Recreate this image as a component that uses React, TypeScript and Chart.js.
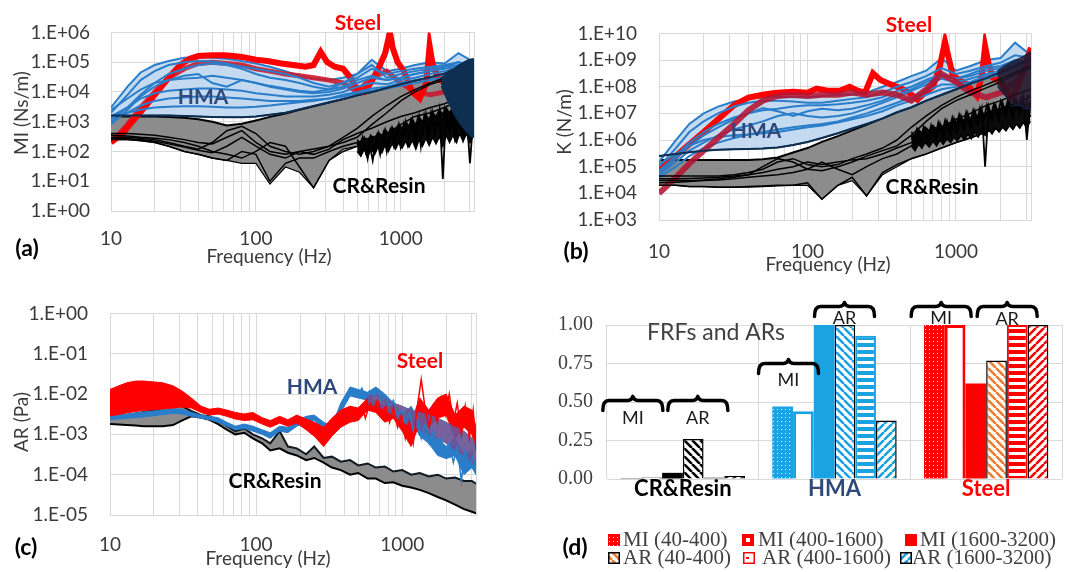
import React, { useEffect, useRef } from 'react';
import { Chart, registerables } from 'chart.js';
Chart.register(...registerables);

// ================= DATA =================
// shared frequency axis (Hz)
const freqGrid = [10, 13, 16, 20, 25, 32, 40, 50, 63, 80, 100, 125, 160, 200, 250, 320, 400, 500, 630, 800, 1000, 1250, 1600, 2000, 2500, 3200];
const freqGridTicks = [10, 20, 30, 40, 50, 60, 70, 80, 90, 100, 200, 300, 400, 500, 600, 700, 800, 900, 1000, 2000, 3000];
const freqLabelTicks = [10, 100, 1000];
const miTicks = [1, 10, 100, 1e3, 1e4, 1e5, 1e6];
const kTicks = [1e3, 1e4, 1e5, 1e6, 1e7, 1e8, 1e9, 1e10];
const arTicks = [1e-5, 1e-4, 1e-3, 1e-2, 1e-1, 1];
const freqNoiseA = [500, 530, 560, 590, 620, 660, 700, 740, 780, 820, 870, 920, 970, 1020, 1080, 1140, 1200, 1270, 1340, 1410, 1490, 1570, 1660, 1750, 1850, 1950, 2060, 2170, 2290, 2420, 2550, 2690, 2840, 3000, 3170];
const freqNoiseB = [515, 545, 575, 605, 640, 680, 720, 760, 800, 845, 895, 945, 995, 1050, 1110, 1170, 1235, 1305, 1375, 1450, 1530, 1615, 1705, 1800, 1900, 2000, 2110, 2230, 2350, 2480, 2620, 2760, 2920, 3080];
const freqNavy = [1900, 2100, 2300, 2500, 2700, 2900, 3100, 3200];

// ---- (a) MI (Ns/m) ----
const hmaA1 = [3e3, 1.5e4, 4.5e4, 8e4, 1.1e5, 1.4e5, 1.5e5, 1.4e5, 1.3e5, 1.1e5, 9e4, 7e4, 5e4, 3.5e4, 2.8e4, 2.5e4, 3e4, 4e4, 1.2e5, 5e4, 6e4, 8e4, 1e5, 9e4, 2e5, 1e5];
const hmaA2 = [2e3, 8e3, 2.5e4, 5e4, 8e4, 1e5, 1.1e5, 1.05e5, 9e4, 7e4, 6e4, 5e4, 4e4, 3e4, 2e4, 1.5e4, 2e4, 3e4, 6e4, 4e4, 5e4, 6e4, 7e4, 8e4, 1e5, 8e4];
const hmaA3 = [1.2e3, 3e3, 8e3, 2e4, 4e4, 6e4, 8e4, 9e4, 8e4, 6e4, 4e4, 3e4, 2.5e4, 2e4, 1.5e4, 1.2e4, 2e4, 4e4, 8e4, 3e4, 4e4, 5e4, 6e4, 7e4, 8e4, 6e4];
const hmaA4 = [2.5e3, 6e3, 1.2e4, 2e4, 2.5e4, 2.8e4, 3e4, 3.5e4, 3e4, 2.5e4, 2e4, 1.6e4, 1.3e4, 1.1e4, 1e4, 1.2e4, 1.5e4, 2.5e4, 3.5e4, 2.5e4, 3e4, 4e4, 5e4, 6e4, 7e4, 6e4];
const hmaA5 = [1.5e3, 3e3, 6e3, 9e3, 1.1e4, 1.2e4, 1.3e4, 1.3e4, 1.2e4, 1.1e4, 9e3, 8e3, 7e3, 7e3, 7e3, 8e3, 1e4, 1.5e4, 2e4, 1.8e4, 2.5e4, 3e4, 4e4, 5e4, 6e4, 5e4];
const hmaA6 = [1e3, 2e3, 3.5e3, 5e3, 6e3, 6.5e3, 7e3, 7e3, 6.5e3, 6e3, 5.5e3, 5e3, 5e3, 5e3, 5.5e3, 6e3, 8e3, 1e4, 1.3e4, 1.5e4, 2e4, 2.5e4, 3e4, 4e4, 5e4, 4e4];
const hmaA7 = [1.5e3, 2e3, 2.5e3, 3e3, 3.2e3, 3.3e3, 3.3e3, 3.2e3, 3e3, 3e3, 3.2e3, 3.5e3, 4e3, 4.5e3, 5e3, 6e3, 7e3, 9e3, 1.1e4, 1.3e4, 1.6e4, 2e4, 2.5e4, 3e4, 4e4, 5e4];
const hmaA8 = [8e2, 2.5e3, 7e3, 1.5e4, 2.5e4, 3.5e4, 4e4, 2e4, 1.5e4, 2.5e4, 2e4, 1.5e4, 1.2e4, 1e4, 9e3, 1e4, 1.3e4, 2e4, 3e4, 2.5e4, 3e4, 4e4, 5e4, 7e4, 1e5, 7e4];
const hmaLowA = [1.6e3, 1.6e3, 1.6e3, 1.6e3, 1.6e3, 1.55e3, 1.5e3, 1.45e3, 1.4e3, 1.4e3, 1.5e3, 1.7e3, 2e3, 2.6e3, 3.4e3, 4.5e3, 5.8e3, 7.7e3, 1e4, 1.35e4, 1.8e4, 2.4e4, 3.1e4, 4.2e4, 5.5e4, 7.5e4];
const crTopA = [1.5e3, 1.5e3, 1.5e3, 1.5e3, 1.45e3, 1.35e3, 1.2e3, 1e3, 7.5e2, 8.5e2, 1.1e3, 1.45e3, 1.9e3, 2.5e3, 3.3e3, 4.4e3, 5.8e3, 7.7e3, 1e4, 1.35e4, 1.8e4, 2.4e4, 3.1e4, 4.2e4, 5.5e4, 7.5e4];
const crLowA = [2.5e2, 2.5e2, 2.3e2, 2e2, 1.5e2, 1e2, 8e1, 6e1, 5e1, 4e1, 4e1, 8, 3e1, 2e1, 6, 5e1, 1.2e2, 1.5e2, 2e2, 3e2, 5e2, 8e2, 1e3, 1.5e3, 2e3, 3e3];
const crA2 = [4e2, 4e2, 3.8e2, 3.5e2, 3e2, 2.5e2, 2e2, 1.8e2, 3e2, 5e2, 2e2, 1e2, 8e1, 1e2, 1.2e2, 1.5e2, 3e2, 6e2, 1.5e3, 3.5e3, 7e3, 1.2e4, 2e4, 3e4, 4e4, 6e4];
const crA3 = [3e2, 3e2, 2.8e2, 2.5e2, 2e2, 1.5e2, 1.2e2, 2e2, 5e2, 7e2, 4e2, 1.5e2, 1e2, 8e1, 1e2, 1.5e2, 2e2, 3e2, 8e2, 2e3, 5e3, 1e4, 1.8e4, 2.5e4, 3.5e4, 5e4];
const crA4 = [3.5e2, 3.3e2, 3e2, 2.8e2, 2.5e2, 2e2, 1.5e2, 1e2, 8e1, 6e1, 1e2, 2e2, 1.5e2, 3e1, 6, 5e1, 1e2, 1.5e2, 2e2, 4e2, 8e2, 1.5e3, 2e3, 3e3, 5e3, 8e3];
const crA5 = [2.8e2, 2.7e2, 2.5e2, 2.2e2, 1.8e2, 1.4e2, 1.1e2, 9e1, 1.5e2, 3e2, 1.5e2, 8e1, 6e1, 1e2, 8e1, 1.2e2, 2.5e2, 4e2, 6e2, 1e3, 1.5e3, 2e3, 3e3, 4e3, 6e3, 1e4];
const crA6 = [2.5e2, 2.5e2, 2.3e2, 2e2, 1.5e2, 1e2, 8e1, 6e1, 5e1, 1e2, 8e1, 1e1, 4e1, 6e1, 6e1, 1e2, 1.5e2, 2e2, 3e2, 4e2, 6e2, 8e2, 1e3, 1.5e3, 2e3, 3e3];
const noiseA1 = [2e2, 8e1, 2.5e2, 6e1, 3e2, 1e2, 4e2, 1.2e2, 5e2, 1.5e2, 6e2, 2e2, 8e2, 2.5e2, 1e3, 3e2, 1.2e3, 2e2, 1.5e3, 4e2, 1.8e3, 3e2, 2e3, 5e2, 2.5e3, 1.2e1, 3e3, 4e2, 2.5e3, 2e2, 3e3, 3e2, 2e3, 4e1, 1.5e3];
const noiseA2 = [1.2e2, 3e2, 9e1, 2e2, 5e1, 3e2, 8e1, 4e2, 1e2, 5e2, 1.5e2, 6e2, 1.5e2, 8e2, 1.8e2, 1e3, 2.5e2, 1.2e3, 1.5e2, 1.5e3, 3e2, 2e3, 4e2, 1.5e3, 3e2, 2.5e3, 6e2, 2e3, 3e2, 2.5e3, 5e2, 2e3, 3e2, 1.5e3];
const noiseHiA = [2.5e2, 1.8e2, 3e2, 2.2e2, 3.5e2, 2.6e2, 4.5e2, 3.2e2, 5.5e2, 4e2, 6.5e2, 5e2, 8e2, 6e2, 1e3, 7e2, 1.2e3, 8e2, 1.4e3, 1e3, 1.7e3, 1.2e3, 2e3, 1.5e3, 2.4e3, 1.8e3, 2.8e3, 2e3, 3e3, 2.2e3, 3e3, 2.4e3, 2.8e3, 2e3, 2.5e3];
const noiseLoA = [1e2, 7e1, 1.2e2, 6e1, 1.3e2, 8e1, 1.5e2, 9e1, 1.7e2, 1e2, 1.8e2, 1.2e2, 2e2, 1.3e2, 2.2e2, 1.4e2, 2.4e2, 1.2e2, 2.6e2, 1.5e2, 2.8e2, 1.6e2, 3e2, 1.8e2, 3.2e2, 1.5e2, 3.5e2, 2e2, 3.5e2, 2e2, 4e2, 2.2e2, 4e2, 2e2, 3.5e2];
const navyTopA = [3e4, 5e4, 6e4, 8e4, 1e5, 1.2e5, 1.3e5, 1.3e5];
const navyBotA = [1.5e4, 5e3, 2e3, 1e3, 6e2, 4e2, 3e2, 3e2];
const freqSteelA = [10, 12, 14, 17, 20, 25, 30, 35, 40, 50, 60, 70, 80, 100, 120, 150, 180, 220, 250, 280, 310, 350, 400, 450, 500, 560, 620, 700, 780, 840, 880, 950, 1050, 1200, 1350, 1500, 1580, 1650, 1800, 2000, 2300, 2600, 3000, 3200];
const steelA1 = [2e2, 4e2, 1e3, 3e3, 8e3, 3e4, 8e4, 1.3e5, 1.6e5, 1.7e5, 1.7e5, 1.6e5, 1.5e5, 1.2e5, 1.1e5, 9e4, 8e4, 7e4, 8e4, 2.2e5, 1e5, 7e4, 6e4, 3e4, 1.2e4, 1e4, 2e4, 6e4, 2e5, 1e6, 3e5, 1e5, 5e4, 1e4, 6e3, 2e4, 3.5e5, 1e5, 3e4, 2e4, 1e4, 8e3, 2e4, 1e5];
const steelA2 = [2e2, 8e2, 3e3, 1e4, 3e4, 6e4, 9e4, 1e5, 9e4, 8e4, 6e4, 5e4, 4e4, 3.5e4, 3e4, 2.5e4, 2e4, 1e4, 3e4, 5e4, 2e4, 1e4, 8e3, 1e4, 3e4, 8e4];

// ---- (b) K (N/m) ----
const hmaB1 = [1.5e5, 1e6, 4e6, 1e7, 1.8e7, 2.8e7, 3.5e7, 4e7, 4.2e7, 4e7, 4e7, 4.5e7, 5e7, 5e7, 6e7, 1e8, 1.5e8, 2.5e8, 4e8, 1.2e9, 4e8, 6e8, 1e9, 1.2e9, 4.5e9, 1.5e9];
const hmaB2 = [1e5, 5e5, 2e6, 5e6, 1e7, 1.8e7, 2.5e7, 3e7, 3e7, 2.8e7, 2.5e7, 2.5e7, 3e7, 3.5e7, 4e7, 6e7, 1e8, 1.5e8, 2.5e8, 5e8, 3e8, 4e8, 6e8, 8e8, 1.5e9, 1.2e9];
const hmaB3 = [7e4, 2.5e5, 8e5, 2e6, 4e6, 7e6, 1e7, 1.3e7, 1.5e7, 1.8e7, 2e7, 2e7, 2.2e7, 2.5e7, 3e7, 4e7, 7e7, 1e8, 1.8e8, 3e8, 2e8, 3e8, 5e8, 6e8, 1e9, 8e8];
const hmaB4 = [5e4, 1.5e5, 4e5, 8e5, 1.5e6, 2.5e6, 3.5e6, 5e6, 8e6, 1e7, 8e6, 7e6, 8e6, 1e7, 1.5e7, 2.5e7, 4e7, 7e7, 1.2e8, 2e8, 1.5e8, 2e8, 3e8, 4e8, 7e8, 6e8];
const hmaB5 = [4e4, 1e5, 2.5e5, 5e5, 8e5, 1.2e6, 1.6e6, 2e6, 2.5e6, 3e6, 3.5e6, 4e6, 5e6, 7e6, 1e7, 1.6e7, 2.5e7, 4e7, 7e7, 1.2e8, 1.2e8, 1.5e8, 2.5e8, 3.5e8, 5e8, 5e8];
const hmaB6 = [6e4, 2e5, 6e5, 1.5e6, 3e6, 6e6, 1e7, 1.6e7, 1.2e7, 8e6, 1.2e7, 1.5e7, 1.3e7, 1.5e7, 2e7, 3e7, 5e7, 8e7, 1.5e8, 2.5e8, 2e8, 2.5e8, 4e8, 5e8, 8e8, 7e8];
const hmaB7 = [1.2e5, 3e5, 6e5, 1e6, 1.3e6, 1.5e6, 1.6e6, 1.8e6, 2e6, 2.5e6, 3e6, 3.5e6, 4.5e6, 6e6, 8e6, 1.2e7, 2e7, 3e7, 5e7, 8e7, 1e8, 1.3e8, 2e8, 3e8, 5e8, 6e8];
const hmaLowB = [2.5e5, 3e5, 3.5e5, 4e5, 4.3e5, 4.5e5, 4.6e5, 4.8e5, 5.2e5, 6.5e5, 8.5e5, 1.2e6, 1.8e6, 2.7e6, 4e6, 6.5e6, 1.1e7, 1.7e7, 3e7, 5e7, 8e7, 1.3e8, 2.1e8, 3.5e8, 6e8, 1.1e9];
const crTopB = [1.8e5, 1.8e5, 1.8e5, 1.8e5, 1.8e5, 1.8e5, 1.8e5, 1.9e5, 2.2e5, 3.4e5, 5e5, 8.5e5, 1.4e6, 2.3e6, 3.7e6, 6.5e6, 1.1e7, 1.7e7, 3e7, 5e7, 8e7, 1.3e8, 2.1e8, 3.5e8, 6e8, 1.1e9];
const crLowB = [2e4, 2e4, 1.8e4, 1.8e4, 1.7e4, 1.7e4, 1.7e4, 1.8e4, 1.9e4, 2e4, 2e4, 6e3, 2e4, 3e4, 8e3, 5e4, 1e5, 2e5, 3e5, 5e5, 8e5, 1.2e6, 2e6, 3e6, 5e6, 8e6];
const crB2 = [4.5e4, 4.5e4, 4.5e4, 4.5e4, 4.5e4, 5e4, 6e4, 8e4, 1.5e5, 2e5, 1.2e5, 1e5, 1.2e5, 2e5, 3e5, 5e5, 1e6, 3e6, 8e6, 2e7, 4e7, 7e7, 1.2e8, 2e8, 3.5e8, 6e8];
const crB3 = [3e4, 3e4, 3e4, 3.2e4, 3.5e4, 4e4, 5e4, 1e5, 2e5, 1.5e5, 8e4, 7e4, 1e5, 1.5e5, 2.5e5, 4e5, 6e5, 1.5e6, 5e6, 1.5e7, 3e7, 5e7, 9e7, 1.5e8, 3e8, 5e8];
const crB4 = [2e4, 2e4, 1.8e4, 1.8e4, 1.7e4, 1.7e4, 1.8e4, 1.9e4, 2e4, 2e4, 2.5e4, 6e3, 2e4, 4e4, 8e3, 6e4, 1.2e5, 2e5, 3e5, 5e5, 8e5, 1.2e6, 2e6, 3e6, 5e6, 8e6];
const crB5 = [2.5e4, 2.6e4, 2.8e4, 3e4, 3.2e4, 3.5e4, 4e4, 4.5e4, 5e4, 6e4, 8e4, 1.5e5, 8e4, 5e4, 1e5, 2e5, 3e5, 6e5, 1e6, 2e6, 4e6, 6e6, 1e7, 1.5e7, 2.5e7, 4e7];
const crB6 = [3.5e4, 3.5e4, 3.6e4, 3.8e4, 4e4, 4.5e4, 5e4, 6e4, 8e4, 1e5, 1.5e5, 1.2e5, 1.5e5, 1.8e5, 2e5, 3e5, 5e5, 8e5, 1.5e6, 3e6, 6e6, 1e7, 2e7, 3e7, 5e7, 8e7];
const noiseB1 = [1.5e6, 5e5, 2e6, 6e5, 2.5e6, 8e5, 3e6, 1e6, 4e6, 1.2e6, 5e6, 1.5e6, 6e6, 2e6, 8e6, 2.5e6, 1e7, 3e6, 1.2e7, 4e6, 1.5e7, 1e5, 1.8e7, 6e6, 2e7, 6e6, 2.5e7, 8e6, 3e7, 7e6, 3e7, 1e7, 4e7, 1e6, 3e7];
const noiseB2 = [8e5, 2.5e6, 7e5, 3e6, 9e5, 3.5e6, 1.2e6, 4.5e6, 1.5e6, 5.5e6, 2e6, 7e6, 2.5e6, 9e6, 3e6, 1.1e7, 3.5e6, 1.3e7, 4.5e6, 1.6e7, 5.5e6, 2e7, 7e6, 2.2e7, 8e6, 2.8e7, 9e6, 3e7, 1e7, 3.5e7, 1.2e7, 4e7, 1.5e7, 5e7];
const noiseHiB = [2e6, 1.5e6, 2.5e6, 1.8e6, 3e6, 2.2e6, 3.5e6, 2.6e6, 4e6, 3e6, 5e6, 3.5e6, 6e6, 4.5e6, 7e6, 5e6, 8e6, 6e6, 1e7, 7e6, 1.2e7, 8e6, 1.4e7, 1e7, 1.6e7, 1.2e7, 1.8e7, 1.3e7, 2e7, 1.5e7, 2.2e7, 1.6e7, 2.5e7, 1.8e7, 2.8e7];
const noiseLoB = [6e5, 4e5, 7e5, 5e5, 8e5, 5.5e5, 9e5, 6e5, 1e6, 7e5, 1.1e6, 8e5, 1.3e6, 9e5, 1.5e6, 1e6, 1.7e6, 1.1e6, 2e6, 1.3e6, 2.2e6, 1.5e6, 2.5e6, 1.7e6, 2.8e6, 2e6, 3e6, 2.2e6, 3.5e6, 2.5e6, 4e6, 2.8e6, 4.5e6, 3e6, 5e6];
const navyTopB = [4e8, 6e8, 8e8, 1e9, 1.2e9, 1.5e9, 2e9, 2e9];
const navyBotB = [1e8, 5e7, 3e7, 2e7, 2e7, 1.5e7, 1.5e7, 1.5e7];
const freqSteelB = [10, 13, 16, 20, 25, 32, 40, 50, 60, 80, 100, 115, 140, 165, 192, 220, 244, 276, 310, 360, 420, 465, 550, 620, 700, 780, 843, 900, 950, 1050, 1180, 1380, 1500, 1570, 1650, 1770, 2000, 2400, 2800, 3200];
const steelB1 = [8e4, 2.5e5, 7e5, 2e6, 6e6, 2e7, 3.9e7, 5e7, 5.8e7, 6.5e7, 6e7, 8.5e7, 7e7, 7e7, 1e8, 7e7, 6e7, 3.2e8, 1.8e8, 1.25e8, 9e7, 7e7, 3.3e7, 6e7, 1e8, 6e8, 4.9e9, 1e9, 2.7e8, 1.8e8, 1.25e8, 4.5e7, 3e8, 3.3e9, 8e8, 2.2e8, 1.5e8, 3.3e7, 3e8, 2.9e9];
const steelB2 = [1e4, 4e4, 1.3e5, 4e5, 1.2e6, 4e6, 1.3e7, 3e7, 4.5e7, 5e7, 4.5e7, 5e7, 5e7, 6e7, 5e7, 6e7, 5e7, 3e7, 8e7, 3e8, 1.5e8, 6e7, 4e7, 6e7, 1.5e8, 1e9];

// ---- (c) AR (Pa) ----
const freqC = [10, 11.5, 13, 15, 17, 20, 23, 27, 31, 36, 42, 48, 55, 63, 72, 83, 95, 110, 125, 145, 165, 190, 220, 250, 290, 330, 380, 440, 500, 580, 660, 760, 870, 1000, 1150, 1320, 1520, 1750, 2000, 2300, 2650, 3000, 3200];
const grayTopC = [2.6e-3, 2.8e-3, 3e-3, 3.3e-3, 3.6e-3, 4e-3, 4.5e-3, 6e-3, 5e-3, 3.8e-3, 3e-3, 2.8e-3, 2.2e-3, 1.6e-3, 1.2e-3, 1.4e-3, 1e-3, 8e-4, 6e-4, 1.2e-3, 5e-4, 4.5e-4, 3.2e-4, 5e-4, 2.6e-4, 2.8e-4, 2.1e-4, 2.3e-4, 1.7e-4, 1.9e-4, 1.5e-4, 1.6e-4, 1.2e-4, 1.3e-4, 1e-4, 1.1e-4, 9e-5, 1e-4, 8e-5, 8.5e-5, 7e-5, 7e-5, 6e-5];
const grayBotC = [1.8e-3, 1.75e-3, 1.7e-3, 1.65e-3, 1.6e-3, 1.6e-3, 1.6e-3, 1.7e-3, 2.2e-3, 2.8e-3, 2.6e-3, 2.3e-3, 1.8e-3, 1.3e-3, 1e-3, 1.1e-3, 8e-4, 6e-4, 4e-4, 4.5e-4, 3.5e-4, 3e-4, 2.3e-4, 2.6e-4, 2e-4, 1.5e-4, 1.3e-4, 1e-4, 1.1e-4, 8e-5, 8e-5, 6.2e-5, 6.5e-5, 5.3e-5, 4.8e-5, 4.2e-5, 3.5e-5, 2.8e-5, 2.3e-5, 1.8e-5, 1.4e-5, 1.2e-5, 1.1e-5];
const redTopC = [1.3e-2, 1.6e-2, 1.9e-2, 2.1e-2, 2.1e-2, 2e-2, 1.9e-2, 1.6e-2, 1.2e-2, 8e-3, 5e-3, 4.2e-3, 4.5e-3, 4e-3, 3.5e-3, 3.2e-3, 3.5e-3, 2.6e-3, 2.2e-3, 2.8e-3, 2.3e-3, 3e-3, 2.4e-3, 2e-3, 1.5e-3, 2.5e-3, 4e-3, 5e-3, 4.5e-3, 8e-3, 7e-3, 5e-3, 6e-3, 3e-3, 2e-3, 8e-3, 4e-3, 8e-3, 1e-2, 3e-3, 5e-3, 4e-3, 1.5e-3];
const redBotC = [2.9e-3, 3.1e-3, 3.4e-3, 3.7e-3, 3.9e-3, 4.1e-3, 4.3e-3, 4.5e-3, 4.8e-3, 4.5e-3, 3.5e-3, 3e-3, 3.2e-3, 2.8e-3, 2.4e-3, 2.2e-3, 2.3e-3, 1.8e-3, 1.5e-3, 1.9e-3, 1.6e-3, 1.9e-3, 1.3e-3, 9e-4, 5e-4, 9e-4, 1.5e-3, 2e-3, 2.2e-3, 4e-3, 3.5e-3, 2e-3, 2.5e-3, 1.2e-3, 5e-4, 2e-3, 1.5e-3, 2.5e-3, 3e-3, 8e-4, 1.5e-3, 1e-3, 4e-4];
const blueTopC = [2.9e-3, 3e-3, 3.2e-3, 3.4e-3, 3.6e-3, 3.8e-3, 4e-3, 4.3e-3, 4.2e-3, 3.5e-3, 3e-3, 2.8e-3, 2.6e-3, 2e-3, 1.6e-3, 1.8e-3, 1.6e-3, 1.3e-3, 1.1e-3, 1.6e-3, 1.5e-3, 2.2e-3, 2.8e-3, 3e-3, 2e-3, 1.6e-3, 6e-3, 1.5e-2, 1.3e-2, 1.1e-2, 1.5e-2, 1e-2, 6e-3, 3e-3, 5e-3, 2e-3, 1.2e-3, 8e-4, 5e-4, 8e-4, 3e-4, 4e-4, 2e-4];
const blueBotC = [2.3e-3, 2.4e-3, 2.5e-3, 2.6e-3, 2.7e-3, 2.9e-3, 3.1e-3, 3.3e-3, 3.2e-3, 2.8e-3, 2.5e-3, 2.3e-3, 2e-3, 1.6e-3, 1.3e-3, 1.4e-3, 1.2e-3, 1e-3, 8e-4, 1.2e-3, 1.1e-3, 1.6e-3, 2e-3, 2.2e-3, 1.4e-3, 1.1e-3, 3.5e-3, 9e-3, 8e-3, 7e-3, 9e-3, 6e-3, 3.5e-3, 1.6e-3, 2.5e-3, 9e-4, 6e-4, 3e-4, 2.5e-4, 3e-4, 1e-4, 1.5e-4, 1e-4];
const freqCP = [580, 660, 760, 870, 1000, 1150, 1320, 1520, 1750, 2000, 2300, 2650, 3000, 3200];
const purpleTopC = [9e-3, 1e-2, 8e-3, 6e-3, 5e-3, 4e-3, 3.5e-3, 3e-3, 2.5e-3, 2e-3, 1.5e-3, 1.2e-3, 8e-4, 6e-4];
const purpleBotC = [5e-3, 5.5e-3, 4e-3, 3e-3, 2e-3, 1.6e-3, 1.3e-3, 1e-3, 8e-4, 6e-4, 4e-4, 3e-4, 2e-4, 1.5e-4];
const freqCN = [500, 530, 560, 600, 640, 680, 720, 770, 820, 870, 930, 990, 1050, 1120, 1190, 1270, 1350, 1440, 1530, 1630, 1740, 1850, 1970, 2100, 2240, 2380, 2540, 2700, 2880, 3060, 3200];
const redNC = [3e-3, 5e-3, 2.5e-3, 6e-3, 4e-3, 7e-3, 3e-3, 5e-3, 2e-3, 4.5e-3, 1.5e-3, 3e-3, 8e-4, 2e-3, 6e-4, 5e-3, 2.3e-2, 4e-3, 1.5e-3, 5e-3, 2e-3, 8e-3, 3e-3, 1e-2, 2e-3, 6e-3, 1e-3, 5e-3, 8e-4, 4e-3, 4e-4];
const blueNC = [1e-2, 1.4e-2, 8e-3, 1.2e-2, 9e-3, 1.3e-2, 7e-3, 9e-3, 5e-3, 7e-3, 3e-3, 4e-3, 2e-3, 3.5e-3, 1.2e-3, 2.5e-3, 8e-4, 1.8e-3, 6e-4, 1.2e-3, 4e-4, 8e-4, 3e-4, 6e-4, 2e-4, 5e-4, 7e-5, 4e-4, 1.5e-4, 3e-4, 1e-4];

// ---- (d) normalised FRFs and ARs ----
const categoriesD = ['CR&Resin', 'HMA', 'Steel'];
const mi40 = [0.005, 0.47, 1.0];
const mi400 = [0.01, 0.44, 1.0];
const mi1600 = [0.04, 1.0, 0.62];
const ar40 = [0.26, 1.0, 0.77];
const ar400 = [0.01, 0.93, 1.0];
const ar1600 = [0.02, 0.38, 1.0];
const barTicksD = [0, 0.25, 0.5, 0.75, 1.0];

// ================= STYLE =================
const RED = '#FF0000';
const HMA_BLUE = '#2A7DC9';
const HMA_TEXT = '#2E4A7A';
const LIGHT_BLUE = '#C3DAF1';
const GRAY_FILL = '#8C8C8C';
const NAVY = '#0E2F52';
const GRID = '#D9D9D9';
const TICK = '#3A3A3A';
const BAR_BLUE = '#1AA3E0';
const ORANGE = '#ED7D31';
const PURPLE = 'rgba(105,85,150,0.92)';

type TextItem = { t: string; x: number; y: number; c: string; size: number; bold?: boolean; rot?: boolean; family?: string; align?: CanvasTextAlign };

const pts = (xs: number[], ys: number[]) => xs.map((x, i) => ({ x, y: ys[i] }));

function ln(xs: number[], ys: number[], color: string, width: number, order: number, extra: any = {}) {
  return { data: pts(xs, ys), borderColor: color, backgroundColor: color, borderWidth: width, pointRadius: 0, pointHoverRadius: 0, fill: false, tension: 0, order, ...extra };
}

function band(list: any[], xs: number[], lo: number[], hi: number[], fillColor: string, loColor: string, loW: number, hiColor: string, hiW: number, order: number) {
  const i = list.length;
  list.push(ln(xs, lo, loColor, loW, order));
  list.push(ln(xs, hi, hiColor, hiW, order, { fill: { target: i }, backgroundColor: fillColor }));
}

const sci = (v: number) => {
  const e = Math.round(Math.log10(v));
  return '1.E' + (e < 0 ? '-' : '+') + String(Math.abs(e)).padStart(2, '0');
};

function decor(texts: TextItem[], frame: boolean, extra?: (chart: any) => void) {
  return {
    id: 'decor',
    beforeDatasetsDraw(chart: any) {
      if (!frame) return;
      const { ctx, chartArea: a } = chart;
      ctx.save();
      ctx.strokeStyle = GRID;
      ctx.lineWidth = 1;
      ctx.strokeRect(Math.round(a.left) + 0.5, Math.round(a.top) + 0.5, Math.round(a.right - a.left), Math.round(a.bottom - a.top));
      ctx.restore();
    },
    afterDraw(chart: any) {
      const ctx = chart.ctx;
      if (extra) extra(chart);
      for (const it of texts) {
        ctx.save();
        ctx.fillStyle = it.c;
        ctx.font = `${it.bold ? 'bold ' : ''}${it.size}px ${it.family ?? 'Lato'}`;
        ctx.textAlign = it.align ?? 'center';
        ctx.textBaseline = 'middle';
        ctx.translate(it.x, it.y);
        if (it.rot) ctx.rotate(-Math.PI / 2);
        ctx.fillText(it.t, 0, 0);
        ctx.restore();
      }
    },
  };
}

function logPanel(p: { datasets: any[]; yMin: number; yMax: number; yTicks: number[]; left: number; top: number; rightPad: number; xH: number; xPad: number; yPad: number; texts: TextItem[] }) {
  return {
    type: 'line',
    data: { datasets: p.datasets },
    options: {
      animation: false,
      responsive: false,
      events: [],
      layout: { padding: { left: 0, top: p.top, right: p.rightPad, bottom: 0 } },
      plugins: { legend: { display: false }, tooltip: { enabled: false } },
      scales: {
        x: {
          type: 'logarithmic', min: 10, max: 3200,
          afterBuildTicks: (s: any) => { s.ticks = freqGridTicks.map((v) => ({ value: v })); },
          afterFit: (s: any) => { s.height = p.xH; },
          ticks: { autoSkip: false, maxRotation: 0, minRotation: 0, padding: p.xPad, color: TICK, font: { family: 'Lato', size: 19 }, callback: (v: number) => (freqLabelTicks.includes(v) ? String(v) : '') },
          grid: { color: GRID, drawTicks: false },
          border: { color: GRID },
        },
        y: {
          type: 'logarithmic', min: p.yMin, max: p.yMax,
          afterBuildTicks: (s: any) => { s.ticks = p.yTicks.map((v) => ({ value: v })); },
          afterFit: (s: any) => { s.width = p.left; },
          ticks: { padding: p.yPad, color: TICK, font: { family: 'Lato', size: 19 }, callback: (v: number) => sci(v) },
          grid: { color: GRID, drawTicks: false },
          border: { color: GRID },
        },
      },
    },
    plugins: [decor(p.texts, true)],
  };
}

function configA() {
  const ds: any[] = [];
  band(ds, freqGrid, crLowA, crTopA, GRAY_FILL, '#000', 1.2, '#000', 2, 100);
  band(ds, freqGrid, hmaLowA, hmaA1, LIGHT_BLUE, NAVY, 1.5, HMA_BLUE, 2, 95);
  ds.push(ln(freqGrid, steelA2, 'rgba(205,25,45,0.9)', 5, 90));
  ds.push(ln(freqSteelA, steelA1, RED, 6, 89));
  [hmaA2, hmaA3, hmaA4, hmaA5, hmaA6, hmaA7, hmaA8].forEach((v) => ds.push(ln(freqGrid, v, HMA_BLUE, 2, 80)));
  [crA2, crA3, crA4, crA5, crA6].forEach((v) => ds.push(ln(freqGrid, v, '#000', 1.5, 70)));
  band(ds, freqNoiseA, noiseLoA, noiseHiA, '#0A0A0A', '#000', 1.5, '#000', 1.5, 62);
  ds.push(ln(freqNoiseA, noiseA1, '#000', 1.8, 60));
  ds.push(ln(freqNoiseB, noiseA2, '#000', 1.8, 60));
  ds.push(ln(freqGrid, hmaLowA, NAVY, 2, 55));
  band(ds, freqNavy, navyBotA, navyTopA, NAVY, NAVY, 1, NAVY, 1, 50);
  return logPanel({
    datasets: ds, yMin: 1, yMax: 1e6, yTicks: miTicks, left: 111, top: 19, rightPad: 66, xH: 69, xPad: 16, yPad: 21,
    texts: [
      { t: '(a)', x: 27, y: 249, c: '#000', size: 23, bold: true },
      { t: 'Frequency (Hz)', x: 269, y: 257, c: TICK, size: 19 },
      { t: 'MI (Ns/m)', x: 22, y: 113, c: TICK, size: 19, rot: true },
      { t: 'Steel', x: 358, y: 23, c: RED, size: 21, bold: true },
      { t: 'HMA', x: 203, y: 97, c: HMA_TEXT, size: 21, bold: true },
      { t: 'CR&Resin', x: 379, y: 186, c: '#000', size: 21, bold: true },
    ],
  });
}

function configB() {
  const ds: any[] = [];
  band(ds, freqGrid, crLowB, crTopB, GRAY_FILL, '#000', 1.2, '#000', 2, 100);
  band(ds, freqGrid, hmaLowB, hmaB1, LIGHT_BLUE, NAVY, 1.5, HMA_BLUE, 2, 95);
  ds.push(ln(freqSteelB, steelB1, RED, 6, 89));
  [hmaB2, hmaB3, hmaB4, hmaB5, hmaB6, hmaB7].forEach((v) => ds.push(ln(freqGrid, v, HMA_BLUE, 2, 80)));
  ds.push(ln(freqGrid, steelB2, 'rgba(180,20,50,0.88)', 6, 75));
  [crB2, crB3, crB4, crB5, crB6].forEach((v) => ds.push(ln(freqGrid, v, '#000', 1.5, 70)));
  band(ds, freqNoiseA, noiseLoB, noiseHiB, '#0A0A0A', '#000', 1.5, '#000', 1.5, 62);
  ds.push(ln(freqNoiseA, noiseB1, '#000', 1.8, 60));
  ds.push(ln(freqNoiseB, noiseB2, '#000', 1.8, 60));
  ds.push(ln(freqGrid, hmaLowB, NAVY, 2, 55));
  band(ds, freqNavy, navyBotB, navyTopB, 'rgba(30,20,40,0.85)', NAVY, 1, NAVY, 1, 50);
  return logPanel({
    datasets: ds, yMin: 1e3, yMax: 1e10, yTicks: kTicks, left: 119, top: 14, rightPad: 37, xH: 60, xPad: 20, yPad: 22,
    texts: [
      { t: '(b)', x: 36, y: 252, c: '#000', size: 23, bold: true },
      { t: 'Frequency (Hz)', x: 288, y: 265, c: TICK, size: 19 },
      { t: 'K (N/m)', x: 25, y: 122, c: TICK, size: 19, rot: true },
      { t: 'Steel', x: 369, y: 25, c: RED, size: 21, bold: true },
      { t: 'HMA', x: 216, y: 131, c: HMA_TEXT, size: 21, bold: true },
      { t: 'CR&Resin', x: 392, y: 187, c: '#000', size: 21, bold: true },
    ],
  });
}

function configC() {
  const ds: any[] = [];
  band(ds, freqC, grayBotC, grayTopC, GRAY_FILL, '#000', 2, '#101820', 2, 95);
  band(ds, freqC, blueBotC, blueTopC, HMA_BLUE, HMA_BLUE, 1, HMA_BLUE, 1, 90);
  band(ds, freqC, redBotC, redTopC, RED, RED, 1, RED, 1, 88);
  band(ds, freqCP, purpleBotC, purpleTopC, PURPLE, PURPLE, 1, PURPLE, 1, 85);
  ds.push(ln(freqCN, blueNC, HMA_BLUE, 1.5, 80));
  ds.push(ln(freqCN, redNC, RED, 1.5, 79));
  return logPanel({
    datasets: ds, yMin: 1e-5, yMax: 1, yTicks: arTicks, left: 110, top: 27, rightPad: 64, xH: 57, xPad: 18, yPad: 22,
    texts: [
      { t: '(c)', x: 26, y: 268, c: '#000', size: 23, bold: true },
      { t: 'Frequency (Hz)', x: 268, y: 279, c: TICK, size: 19 },
      { t: 'AR (Pa)', x: 22, y: 142, c: TICK, size: 19, rot: true },
      { t: 'Steel', x: 420, y: 81, c: RED, size: 21, bold: true },
      { t: 'HMA', x: 312, y: 107, c: HMA_TEXT, size: 21, bold: true },
      { t: 'CR&Resin', x: 275, y: 201, c: '#000', size: 21, bold: true },
    ],
  });
}

// ---- patterns for (d) ----
function makePattern(kind: string, color: string): CanvasPattern {
  const c = document.createElement('canvas');
  const g = c.getContext('2d') as CanvasRenderingContext2D;
  if (kind === 'dots') {
    c.width = 4; c.height = 4;
    g.fillStyle = color; g.fillRect(0, 0, 4, 4);
    g.fillStyle = 'rgba(255,255,255,0.9)'; g.fillRect(1, 1, 1, 1);
  } else if (kind === 'hstripe') {
    c.width = 7; c.height = 7;
    g.fillStyle = '#FFFFFF'; g.fillRect(0, 0, 7, 7);
    g.fillStyle = color; g.fillRect(0, 0, 7, 4);
  } else {
    const s = 8;
    c.width = s; c.height = s;
    g.fillStyle = '#FFFFFF'; g.fillRect(0, 0, s, s);
    g.strokeStyle = color; g.lineWidth = 2.6;
    g.beginPath();
    for (const k of [-s, 0, s]) {
      if (kind === 'diagDown') { g.moveTo(k, 0); g.lineTo(k + s, s); }
      else { g.moveTo(k, s); g.lineTo(k + s, 0); }
    }
    g.stroke();
  }
  return g.createPattern(c, 'repeat') as CanvasPattern;
}

const braceSpecs = [
  { cat: 0, dx: -50, v: 0.53, label: 'MI', ty: 21 },
  { cat: 0, dx: 15, v: 0.53, label: 'AR', ty: 21 },
  { cat: 1, dx: -46, v: 0.77, label: 'MI', ty: 20 },
  { cat: 1, dx: 10, v: 1.14, label: 'AR', ty: 15 },
  { cat: 2, dx: -45, v: 1.14, label: 'MI', ty: 15 },
  { cat: 2, dx: 21, v: 1.14, label: 'AR', ty: 16 },
];

function drawBrace(ctx: CanvasRenderingContext2D, cx: number, half: number, y: number) {
  const x1 = cx - half, x2 = cx + half, h = 3;
  ctx.beginPath();
  ctx.moveTo(x1, y + 13);
  ctx.quadraticCurveTo(x1, y + h, x1 + 6, y + h);
  ctx.lineTo(cx - 5, y + h);
  ctx.quadraticCurveTo(cx - 1, y + h, cx, y - 1);
  ctx.quadraticCurveTo(cx + 1, y + h, cx + 5, y + h);
  ctx.lineTo(x2 - 6, y + h);
  ctx.quadraticCurveTo(x2, y + h, x2, y + 13);
  ctx.stroke();
}

function configD() {
  const catColor = ['#000000', BAR_BLUE, RED];
  const ar40Color = ['#000000', BAR_BLUE, ORANGE];
  const catLabelColor = ['#000000', HMA_TEXT, RED];
  const datasets = [
    { label: 'MI (40-400)', data: mi40, backgroundColor: catColor.map((c) => makePattern('dots', c)), borderWidth: 0 },
    { label: 'MI (400-1600)', data: mi400, backgroundColor: '#FFFFFF', borderColor: catColor, borderWidth: 3 },
    { label: 'MI (1600-3200)', data: mi1600, backgroundColor: catColor, borderWidth: 0 },
    { label: 'AR (40-400)', data: ar40, backgroundColor: ar40Color.map((c) => makePattern('diagDown', c)), borderColor: '#000', borderWidth: 1.5 },
    { label: 'AR (400-1600)', data: ar400, backgroundColor: catColor.map((c) => makePattern('hstripe', c)), borderColor: catColor, borderWidth: 2 },
    { label: 'AR (1600-3200)', data: ar1600, backgroundColor: catColor.map((c) => makePattern('diagUp', c)), borderColor: '#000', borderWidth: 1.5 },
  ];
  const legendSw = {
    dots: makePattern('dots', RED),
    diagDown: makePattern('diagDown', ORANGE),
    diagUp: makePattern('diagUp', BAR_BLUE),
  };
  const extra = (chart: any) => {
    const ctx: CanvasRenderingContext2D = chart.ctx;
    const xs = chart.scales.x, ys = chart.scales.y;
    ctx.save();
    ctx.strokeStyle = '#000'; ctx.lineWidth = 3.5; ctx.lineCap = 'round'; ctx.lineJoin = 'round';
    ctx.fillStyle = '#1A1A1A'; ctx.font = '18px Lato'; ctx.textAlign = 'center'; ctx.textBaseline = 'middle';
    for (const b of braceSpecs) {
      const cx = xs.getPixelForValue(b.cat) + b.dx;
      const y = ys.getPixelForValue(b.v);
      drawBrace(ctx, cx, 30, y);
      ctx.fillText(b.label, cx, y + b.ty);
    }
    ctx.restore();
    // legend
    const r1 = 260, r2 = 278, bs = 12;
    ctx.save();
    const sw = (x: number, y: number, fill: any, stroke: string | null, lw: number) => {
      ctx.fillStyle = fill; ctx.fillRect(x, y - bs / 2, bs, bs);
      if (stroke) { ctx.strokeStyle = stroke; ctx.lineWidth = lw; ctx.strokeRect(x + lw / 2, y - bs / 2 + lw / 2, bs - lw, bs - lw); }
    };
    sw(68, r1, legendSw.dots, null, 0);
    sw(202, r1, RED, null, 0);
    ctx.fillStyle = '#FFFFFF'; ctx.fillRect(206, r1 - 2, 4, 4);
    sw(365, r1, RED, null, 0);
    sw(68, r2, legendSw.diagDown, '#000', 1.5);
    sw(203, r2, '#FFFFFF', RED, 1.5);
    ctx.fillStyle = RED; ctx.fillRect(206, r2 - 1, 3, 2);
    sw(360, r2, legendSw.diagUp, '#000', 1.5);
    ctx.fillStyle = '#404040'; ctx.font = '21px "Liberation Serif"'; ctx.textAlign = 'left'; ctx.textBaseline = 'middle';
    ctx.fillText(datasets[0].label, 83, r1);
    ctx.fillText(datasets[1].label, 218, r1);
    ctx.fillText(datasets[2].label, 380, r1);
    ctx.fillText(datasets[3].label, 83, r2);
    ctx.fillText(datasets[4].label, 222, r2);
    ctx.fillText(datasets[5].label, 372, r2);
    ctx.restore();
  };
  return {
    type: 'bar',
    data: { labels: categoriesD, datasets },
    options: {
      animation: false,
      responsive: false,
      events: [],
      layout: { padding: { left: 0, top: 45, right: 6, bottom: 0 } },
      plugins: { legend: { display: false }, tooltip: { enabled: false } },
      datasets: { bar: { categoryPercentage: 0.82, barPercentage: 1 } },
      scales: {
        x: {
          afterFit: (s: any) => { s.height = 93; },
          grid: { color: GRID, drawTicks: false, offset: true },
          border: { display: false },
          ticks: { padding: -3, color: (c: any) => catLabelColor[c.index], font: { family: 'Lato', size: 22, weight: 'bold' } },
        },
        y: {
          min: 0, max: 1,
          afterBuildTicks: (s: any) => { s.ticks = barTicksD.map((v) => ({ value: v })); },
          afterFit: (s: any) => { s.width = 67; },
          grid: { color: GRID, drawTicks: false },
          border: { display: false },
          ticks: { padding: 14, color: '#404040', font: { family: 'Liberation Serif', size: 20 }, callback: (v: number) => v.toFixed(2) },
        },
      },
    },
    plugins: [decor([
      { t: 'FRFs and ARs', x: 107, y: 53, c: '#404040', size: 23, align: 'left' },
      { t: '(d)', x: 35, y: 268, c: '#000', size: 23, bold: true },
    ], false, extra)],
  };
}

function ChartCanvas({ left, top, width, height, make }: { left: number; top: number; width: number; height: number; make: () => any }) {
  const ref = useRef<HTMLCanvasElement>(null);
  useEffect(() => {
    const chart = new Chart(ref.current as HTMLCanvasElement, make());
    return () => chart.destroy();
  }, [make]);
  return <canvas ref={ref} width={width} height={height} style={{ position: 'absolute', left, top, width, height, display: 'block' }} />;
}

export default function App() {
  return (
    <div style={{ position: 'absolute', left: 0, top: 0, width: 1068, height: 572, background: '#FFFFFF', overflow: 'hidden' }}>
      <ChartCanvas left={0} top={0} width={540} height={280} make={configA} />
      <ChartCanvas left={540} top={0} width={528} height={280} make={configB} />
      <ChartCanvas left={0} top={280} width={540} height={292} make={configC} />
      <ChartCanvas left={540} top={280} width={528} height={292} make={configD} />
    </div>
  );
}
